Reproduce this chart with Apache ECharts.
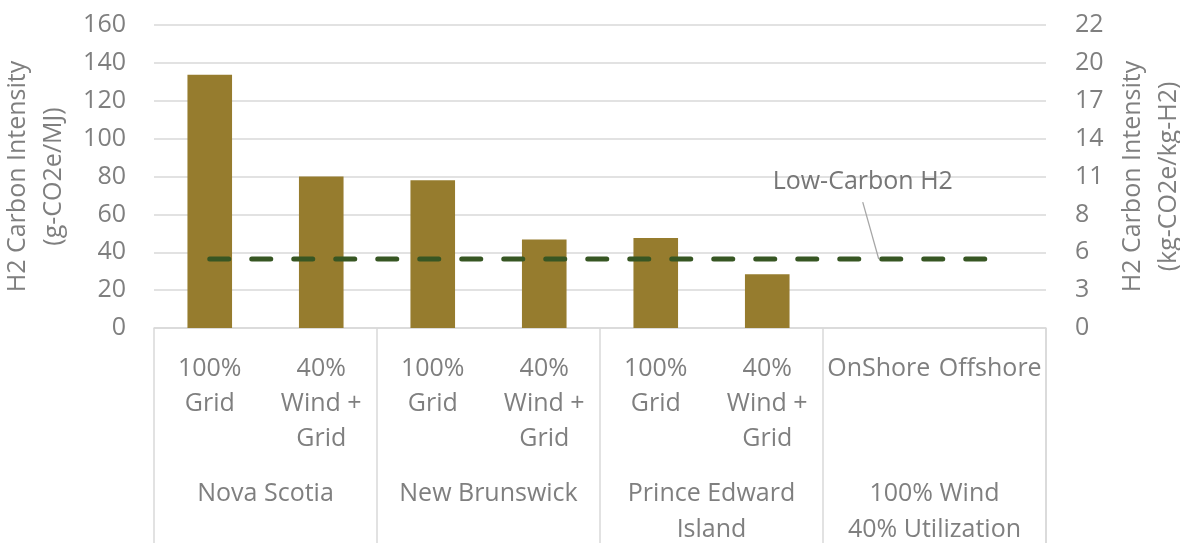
<!DOCTYPE html>
<html>
<head>
<meta charset="utf-8">
<script src="https://cdn.jsdelivr.net/npm/echarts@6/dist/echarts.min.js"></script>
<style>
  html, body { margin: 0; padding: 0; background: #ffffff; }
  #chart { width: 1180px; height: 543px; }
</style>
</head>
<body>
<div id="chart"></div>
<script>
// Scenario labels (inner axis row) and region groups (outer axis row)
const scenarios = ['100%\nGrid', '40%\nWind +\nGrid', '100%\nGrid', '40%\nWind +\nGrid',
                   '100%\nGrid', '40%\nWind +\nGrid', 'OnShore', 'Offshore'];
const regions = ['Nova Scotia', 'New Brunswick', 'Prince Edward\nIsland', '100% Wind\n40% Utilization'];

// H2 carbon intensity, g-CO2e/MJ
const intensity = [133.7, 80, 78, 46.7, 47.5, 28.4, 0, 0];

// Low-carbon hydrogen threshold, g-CO2e/MJ
const lowCarbon = [36.4, 36.4, 36.4, 36.4, 36.4, 36.4, 36.4, 36.4];
const lowCarbonLabel = 'Low-Carbon H2';
const labelCategory = 6; // annotation points at the OnShore position

// Left axis ticks (g/MJ) and the right axis in kg-CO2e/kg-H2
const leftMax = 160, leftStep = 20;
const kgPerMJFactor = 0.14;

const TEXT = '#7f7f7f';
const GRID_LINE = '#d9d9d9';
const FONT = 'Open Sans';
const HEIGHT = 543;

const chart = echarts.init(document.getElementById('chart'), null, { renderer: 'canvas' });

const option = {
  backgroundColor: '#ffffff',
  animation: false,
  textStyle: { fontFamily: FONT, color: TEXT },
  grid: { left: 154, right: 134, top: 25, bottom: 215, containLabel: false, outerBoundsMode: 'none' },
  xAxis: [
    {
      type: 'category',
      data: scenarios,
      position: 'bottom',
      axisLine: { show: true, lineStyle: { color: GRID_LINE, width: 1.5 } },
      axisTick: { show: false },
      axisLabel: {
        interval: 0, margin: 23, color: TEXT, fontFamily: FONT, fontSize: 25,
        lineHeight: 35, align: 'center', verticalAlign: 'top'
      },
      splitLine: { show: false }
    },
    {
      type: 'category',
      data: regions,
      position: 'bottom',
      offset: 0,
      axisLine: { show: false },
      axisTick: { show: true, length: 216, inside: false, lineStyle: { color: GRID_LINE, width: 1.5 } },
      axisLabel: {
        interval: 0, margin: 148, color: TEXT, fontFamily: FONT, fontSize: 25,
        lineHeight: 36, align: 'center', verticalAlign: 'top'
      },
      splitLine: { show: false }
    }
  ],
  yAxis: [
    {
      type: 'value',
      min: 0, max: leftMax, interval: leftStep,
      position: 'left',
      name: 'H2 Carbon Intensity\n(g-CO2e/MJ)',
      nameLocation: 'middle',
      nameRotate: 90,
      nameGap: 76,
      nameTextStyle: { color: TEXT, fontFamily: FONT, fontSize: 25, lineHeight: 36, verticalAlign: 'bottom' },
      axisLine: { show: false },
      axisTick: { show: false },
      axisLabel: { color: TEXT, fontFamily: FONT, fontSize: 25, margin: 28 },
      splitLine: { show: true, lineStyle: { color: GRID_LINE, width: 1.5 } }
    },
    {
      type: 'value',
      min: 0, max: leftMax * kgPerMJFactor, interval: leftStep * kgPerMJFactor,
      position: 'right',
      name: 'H2 Carbon Intensity\n(kg-CO2e/kg-H2)',
      nameLocation: 'middle',
      nameRotate: 90,
      nameGap: 68,
      nameTextStyle: { color: TEXT, fontFamily: FONT, fontSize: 25, lineHeight: 36, verticalAlign: 'top' },
      axisLine: { show: false },
      axisTick: { show: false },
      axisLabel: {
        color: TEXT, fontFamily: FONT, fontSize: 25, margin: 29,
        formatter: v => String(Math.round(v))
      },
      splitLine: { show: false }
    }
  ],
  series: [
    {
      name: 'H2 Carbon Intensity',
      type: 'bar',
      xAxisIndex: 0, yAxisIndex: 0,
      data: intensity,
      barWidth: '40%',
      itemStyle: { color: '#967c2e' }
    },
    {
      name: lowCarbonLabel,
      type: 'line',
      xAxisIndex: 0, yAxisIndex: 0,
      data: lowCarbon,
      symbol: 'none',
      lineStyle: { color: '#375623', width: 5, type: [19, 23], cap: 'round' },
      z: 3
    }
  ]
};

chart.setOption(option);

// Callout for the threshold line: leader from the text down to the dashed line
const toPx = (i, v) => chart.convertToPixel({ xAxisIndex: 0, yAxisIndex: 0 }, [i, v]);
const anchor = toPx(labelCategory, lowCarbon[labelCategory]);

// Closing border on the right of the grouped category table
const last = scenarios.length - 1;
const lastPx = toPx(last, 0);
const prevPx = toPx(last - 1, 0);
const rightEdge = lastPx[0] + (lastPx[0] - prevPx[0]) / 2;

chart.setOption({
  graphic: [
    {
      type: 'line',
      shape: { x1: rightEdge, y1: lastPx[1], x2: rightEdge, y2: HEIGHT },
      style: { stroke: GRID_LINE, lineWidth: 1.5 },
      z: 1
    },
    {
      type: 'line',
      shape: { x1: anchor[0] - 16, y1: anchor[1] - 57, x2: anchor[0], y2: anchor[1] },
      style: { stroke: '#a6a6a6', lineWidth: 1.3 },
      z: 10
    },
    {
      type: 'text',
      x: anchor[0] - 16,
      y: anchor[1] - 77,
      style: {
        text: lowCarbonLabel, fill: '#767676', font: '25px "Open Sans"',
        align: 'center', verticalAlign: 'middle'
      },
      z: 10
    }
  ]
});
</script>
</body>
</html>
